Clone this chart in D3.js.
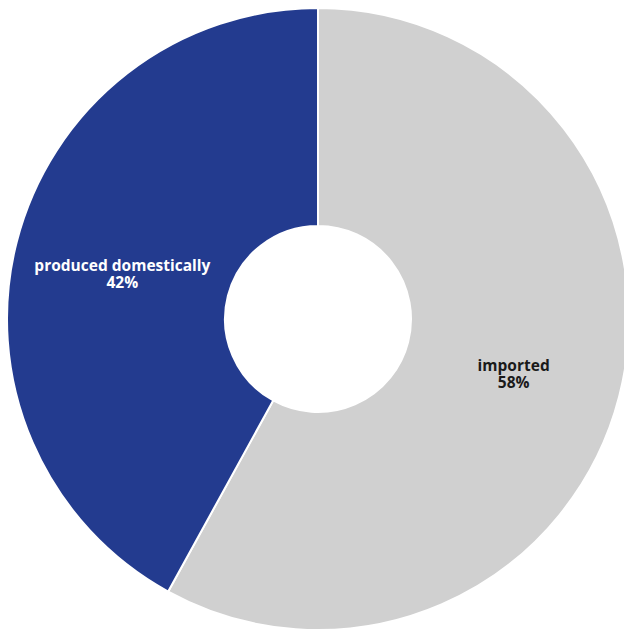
<!DOCTYPE html>
<html>
  <head>
    <meta charset="utf-8" />
    <title>Imported vs domestic</title>
    <script src="https://d3js.org/d3.v7.min.js"></script>
    <style>
        body { margin: 0; background: #fff; }
        .lbl {
            font-family: "Open Sans", sans-serif;
            font-size: 15.5px;
            font-weight: bold;
        }
    </style>
  </head>
<body>
    <svg id="donut" width="624" height="630"></svg>

    <script>
        // shares, in drawing order (clockwise from 12 o'clock)
        var categories = ["imported", "produced domestically"];
        var shares = [58, 42];
        var colors = ["#d0d0d0", "#233b8f"];
        var textColors = ["#1a1a1a", "#ffffff"];

        var cx = 318, cy = 319;
        var outer = 311, inner = 93;

        var svg = d3.select("#donut");
        var g = svg.append("g").attr("transform", "translate(" + cx + "," + cy + ")");

        var pie = d3.pie().sort(null).value(function(d) { return d; });
        var arc = d3.arc().innerRadius(inner).outerRadius(outer);

        var slices = pie(shares);

        g.selectAll("path")
            .data(slices)
            .enter().append("path")
            .attr("d", arc)
            .attr("fill", function(d, i) { return colors[i]; })
            .attr("stroke", "#fff")
            .attr("stroke-width", 2);

        // two lines per slice: name, then percent
        var labelG = g.selectAll("g.lbl-g")
            .data(slices)
            .enter().append("g")
            .attr("class", "lbl-g")
            .attr("transform", function(d) {
                var c = arc.centroid(d);
                return "translate(" + c[0] + "," + c[1] + ")";
            });

        labelG.append("text")
            .attr("class", "lbl")
            .attr("text-anchor", "middle")
            .attr("fill", function(d, i) { return textColors[i]; })
            .attr("y", 2)
            .text(function(d, i) { return categories[i]; });

        labelG.append("text")
            .attr("class", "lbl")
            .attr("text-anchor", "middle")
            .attr("fill", function(d, i) { return textColors[i]; })
            .attr("y", 19)
            .text(function(d) { return d.data + "%"; });
    </script>
</body>
</html>
